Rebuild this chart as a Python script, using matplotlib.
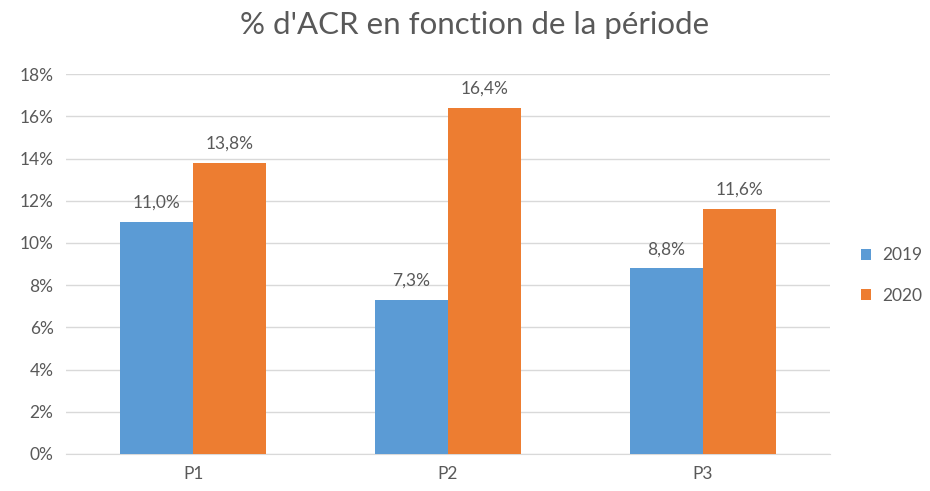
import matplotlib.pyplot as plt
import numpy as np
from matplotlib.ticker import FuncFormatter

categories = ["P1", "P2", "P3"]
values_2019 = [11.0, 7.3, 8.8]
values_2020 = [13.8, 16.4, 11.6]
series_names = ["2019", "2020"]
colors = ["#5B9BD5", "#ED7D31"]
text_color = "#595959"

plt.rcParams['font.family'] = ['Lato', 'DejaVu Sans']

fig = plt.figure(figsize=(9.3, 4.91), dpi=100)
ax = fig.add_axes([0.071, 0.0754, 0.8215, 0.7736])

x = np.arange(len(categories))
w = 0.287
for i, (vals, name) in enumerate(zip([values_2019, values_2020], series_names)):
    offset = (i - 0.5) * w
    ax.bar(x + offset, vals, w, color=colors[i], label=name, zorder=3)
    for xi, v in zip(x + offset, vals):
        ax.annotate(f"{v:.1f}%".replace(".", ","), (xi, v), xytext=(0, 8),
                    textcoords="offset points", ha="center", va="bottom",
                    fontsize=12.5, color=text_color)

ax.set_xlim(-0.5, 2.5)
ax.set_ylim(0, 18)
ax.set_yticks(np.arange(0, 19, 2))
ax.yaxis.set_major_formatter(FuncFormatter(lambda v, p: f"{v:.0f}%"))
ax.set_xticks(x)
ax.set_xticklabels(categories)
ax.grid(axis="y", color="#D9D9D9", linewidth=1, zorder=0)
for s in ["top", "right", "left"]:
    ax.spines[s].set_visible(False)
ax.spines["bottom"].set_color("#D9D9D9")
ax.tick_params(axis="both", length=0, labelsize=12.5, colors=text_color, pad=9)

fig.suptitle("% d'ACR en fonction de la période", x=0.51, y=0.978,
             fontsize=22.5, color=text_color)

ax.legend(loc="center left", bbox_to_anchor=(1.02, 0.47), frameon=False,
          fontsize=12.5, labelcolor=text_color, handlelength=0.6,
          handleheight=0.6, handletextpad=0.6, labelspacing=1.4)

fig.savefig("out.png", dpi=100)
